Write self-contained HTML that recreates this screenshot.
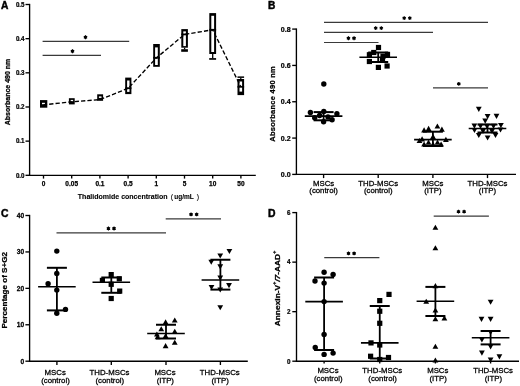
<!DOCTYPE html>
<html><head><meta charset="utf-8"><style>
html,body{margin:0;padding:0;background:#fff;width:520px;height:386px;overflow:hidden;}
svg{display:block;font-family:"Liberation Sans", sans-serif;will-change:transform;}
</style></head><body>
<svg width="520" height="386" viewBox="0 0 520 386">
<rect width="520" height="386" fill="#fff"/>
<text x="1.00" y="8.80" font-size="10.2" font-weight="bold" text-anchor="start" fill="#000" stroke="#000" stroke-width="0.45" >A</text>
<line x1="29.60" y1="3.85" x2="29.60" y2="175.95" stroke="#000" stroke-width="1.35" />
<line x1="28.95" y1="175.30" x2="255.80" y2="175.30" stroke="#000" stroke-width="1.35" />
<line x1="25.50" y1="4.50" x2="29.60" y2="4.50" stroke="#000" stroke-width="1.35" />
<text x="0.00" y="0.00" font-size="6.9" font-weight="bold" text-anchor="end" fill="#000" stroke="#000" stroke-width="0.25" transform="translate(24.50 6.80) scale(0.9 1)" >0.5</text>
<line x1="25.50" y1="38.66" x2="29.60" y2="38.66" stroke="#000" stroke-width="1.35" />
<text x="0.00" y="0.00" font-size="6.9" font-weight="bold" text-anchor="end" fill="#000" stroke="#000" stroke-width="0.25" transform="translate(24.50 40.96) scale(0.9 1)" >0.4</text>
<line x1="25.50" y1="72.82" x2="29.60" y2="72.82" stroke="#000" stroke-width="1.35" />
<text x="0.00" y="0.00" font-size="6.9" font-weight="bold" text-anchor="end" fill="#000" stroke="#000" stroke-width="0.25" transform="translate(24.50 75.12) scale(0.9 1)" >0.3</text>
<line x1="25.50" y1="106.98" x2="29.60" y2="106.98" stroke="#000" stroke-width="1.35" />
<text x="0.00" y="0.00" font-size="6.9" font-weight="bold" text-anchor="end" fill="#000" stroke="#000" stroke-width="0.25" transform="translate(24.50 109.28) scale(0.9 1)" >0.2</text>
<line x1="25.50" y1="141.14" x2="29.60" y2="141.14" stroke="#000" stroke-width="1.35" />
<text x="0.00" y="0.00" font-size="6.9" font-weight="bold" text-anchor="end" fill="#000" stroke="#000" stroke-width="0.25" transform="translate(24.50 143.44) scale(0.9 1)" >0.1</text>
<line x1="25.50" y1="175.30" x2="29.60" y2="175.30" stroke="#000" stroke-width="1.35" />
<text x="0.00" y="0.00" font-size="6.9" font-weight="bold" text-anchor="end" fill="#000" stroke="#000" stroke-width="0.25" transform="translate(24.50 177.60) scale(0.9 1)" >0.0</text>
<line x1="43.50" y1="175.30" x2="43.50" y2="178.60" stroke="#000" stroke-width="1.35" />
<text x="43.50" y="185.50" font-size="6.5" font-weight="bold" text-anchor="middle" fill="#000" stroke="#000" stroke-width="0.25" >0</text>
<line x1="71.70" y1="175.30" x2="71.70" y2="178.60" stroke="#000" stroke-width="1.35" />
<text x="71.70" y="185.50" font-size="6.5" font-weight="bold" text-anchor="middle" fill="#000" stroke="#000" stroke-width="0.25" >0.05</text>
<line x1="99.90" y1="175.30" x2="99.90" y2="178.60" stroke="#000" stroke-width="1.35" />
<text x="99.90" y="185.50" font-size="6.5" font-weight="bold" text-anchor="middle" fill="#000" stroke="#000" stroke-width="0.25" >0.1</text>
<line x1="128.10" y1="175.30" x2="128.10" y2="178.60" stroke="#000" stroke-width="1.35" />
<text x="128.10" y="185.50" font-size="6.5" font-weight="bold" text-anchor="middle" fill="#000" stroke="#000" stroke-width="0.25" >0.5</text>
<line x1="156.30" y1="175.30" x2="156.30" y2="178.60" stroke="#000" stroke-width="1.35" />
<text x="156.30" y="185.50" font-size="6.5" font-weight="bold" text-anchor="middle" fill="#000" stroke="#000" stroke-width="0.25" >1</text>
<line x1="184.50" y1="175.30" x2="184.50" y2="178.60" stroke="#000" stroke-width="1.35" />
<text x="184.50" y="185.50" font-size="6.5" font-weight="bold" text-anchor="middle" fill="#000" stroke="#000" stroke-width="0.25" >5</text>
<line x1="212.70" y1="175.30" x2="212.70" y2="178.60" stroke="#000" stroke-width="1.35" />
<text x="212.70" y="185.50" font-size="6.5" font-weight="bold" text-anchor="middle" fill="#000" stroke="#000" stroke-width="0.25" >10</text>
<line x1="240.90" y1="175.30" x2="240.90" y2="178.60" stroke="#000" stroke-width="1.35" />
<text x="240.90" y="185.50" font-size="6.5" font-weight="bold" text-anchor="middle" fill="#000" stroke="#000" stroke-width="0.25" >50</text>
<text x="77.80" y="198.80" font-size="6.6" font-weight="bold" text-anchor="start" fill="#000" stroke="#000" stroke-width="0.1" textLength="89.8" lengthAdjust="spacingAndGlyphs" >Thalidomide concentration</text>
<text x="171.90" y="198.90" font-size="7.0" font-weight="normal" text-anchor="middle" fill="#000" stroke="#000" stroke-width="0.1" >(</text>
<text x="174.30" y="198.80" font-size="6.6" font-weight="bold" text-anchor="start" fill="#000" stroke="#000" stroke-width="0.1" textLength="19.5" lengthAdjust="spacingAndGlyphs" >ug/mL</text>
<text x="197.90" y="198.90" font-size="7.0" font-weight="normal" text-anchor="middle" fill="#000" stroke="#000" stroke-width="0.1" >)</text>
<text x="10.10" y="92.00" font-size="6.9" font-weight="bold" text-anchor="middle" fill="#000" stroke="#000" stroke-width="0.25" textLength="66.5" lengthAdjust="spacingAndGlyphs" transform="rotate(-90 10.1 92.0)" >Absorbance 490 nm</text>
<line x1="42.60" y1="41.40" x2="129.20" y2="41.40" stroke="#3a3a3a" stroke-width="1.2" />
<path d="M85.50,35.25L85.50,39.15M83.81,36.22L87.19,38.17M87.19,36.22L83.81,38.17" stroke="#000" stroke-width="1.1" fill="none"/>
<circle cx="85.50" cy="37.20" r="1.35" fill="#000"/>
<line x1="42.60" y1="55.40" x2="101.00" y2="55.40" stroke="#3a3a3a" stroke-width="1.2" />
<path d="M72.50,49.25L72.50,53.15M70.81,50.22L74.19,52.17M74.19,50.22L70.81,52.17" stroke="#000" stroke-width="1.1" fill="none"/>
<circle cx="72.50" cy="51.20" r="1.35" fill="#000"/>
<rect x="40.00" y="100.10" width="7.30" height="7.60" fill="#000"/>
<rect x="42.00" y="102.80" width="2.90" height="1.40" fill="#fff"/>
<rect x="68.90" y="98.20" width="5.80" height="6.20" fill="#000"/>
<rect x="70.70" y="99.90" width="2.40" height="1.40" fill="#fff"/>
<rect x="97.20" y="94.30" width="5.90" height="6.50" fill="#000"/>
<rect x="98.90" y="96.40" width="2.60" height="1.50" fill="#fff"/>
<rect x="125.20" y="77.60" width="6.20" height="16.50" fill="#000"/>
<rect x="127.10" y="80.50" width="2.40" height="11.40" fill="#fff"/>
<rect x="125.20" y="87.30" width="6.20" height="1.80" fill="#000"/>
<rect x="153.20" y="44.00" width="6.60" height="22.80" fill="#000"/>
<rect x="155.10" y="47.40" width="2.70" height="17.60" fill="#fff"/>
<rect x="153.20" y="56.90" width="6.60" height="1.80" fill="#000"/>
<rect x="181.30" y="29.10" width="6.60" height="18.60" fill="#000"/>
<rect x="183.30" y="31.40" width="2.60" height="14.70" fill="#fff"/>
<rect x="181.30" y="33.50" width="6.60" height="1.80" fill="#000"/>
<rect x="209.30" y="13.10" width="6.80" height="40.90" fill="#000"/>
<rect x="211.30" y="15.80" width="2.80" height="36.20" fill="#fff"/>
<rect x="209.30" y="28.90" width="6.80" height="1.80" fill="#000"/>
<rect x="237.50" y="79.00" width="6.60" height="16.10" fill="#000"/>
<rect x="239.50" y="81.50" width="2.60" height="10.10" fill="#fff"/>
<rect x="237.50" y="85.90" width="6.60" height="1.80" fill="#000"/>
<polyline points="43.6,104.8 71.8,101.8 100.1,99.6 128.3,88.2 156.5,57.8 184.6,34.4 212.7,29.8 240.8,86.8" fill="none" stroke="#000" stroke-width="1.35" stroke-dasharray="4.3,2.1" stroke-dashoffset="0.8"/>
<line x1="184.60" y1="47.70" x2="184.60" y2="49.30" stroke="#000" stroke-width="1.3" />
<rect x="181.20" y="49.20" width="6.70" height="2.60" fill="#000"/>
<line x1="212.70" y1="54.00" x2="212.70" y2="58.20" stroke="#000" stroke-width="1.3" />
<rect x="209.20" y="58.10" width="6.90" height="1.70" fill="#000"/>
<line x1="240.80" y1="77.80" x2="240.80" y2="79.00" stroke="#000" stroke-width="1.3" />
<rect x="237.50" y="76.40" width="6.60" height="1.50" fill="#000"/>
<text x="268.00" y="8.70" font-size="10.2" font-weight="bold" text-anchor="start" fill="#000" stroke="#000" stroke-width="0.45" >B</text>
<line x1="296.40" y1="28.45" x2="296.40" y2="175.05" stroke="#000" stroke-width="1.35" />
<line x1="295.75" y1="174.40" x2="516.00" y2="174.40" stroke="#000" stroke-width="1.35" />
<line x1="292.20" y1="29.10" x2="296.40" y2="29.10" stroke="#000" stroke-width="1.35" />
<text x="0.00" y="0.00" font-size="7.6" font-weight="bold" text-anchor="end" fill="#000" stroke="#000" stroke-width="0.25" transform="translate(290.60 31.70) scale(0.93 1)" >0.8</text>
<line x1="292.20" y1="65.43" x2="296.40" y2="65.43" stroke="#000" stroke-width="1.35" />
<text x="0.00" y="0.00" font-size="7.6" font-weight="bold" text-anchor="end" fill="#000" stroke="#000" stroke-width="0.25" transform="translate(290.60 68.03) scale(0.93 1)" >0.6</text>
<line x1="292.20" y1="101.75" x2="296.40" y2="101.75" stroke="#000" stroke-width="1.35" />
<text x="0.00" y="0.00" font-size="7.6" font-weight="bold" text-anchor="end" fill="#000" stroke="#000" stroke-width="0.25" transform="translate(290.60 104.35) scale(0.93 1)" >0.4</text>
<line x1="292.20" y1="138.08" x2="296.40" y2="138.08" stroke="#000" stroke-width="1.35" />
<text x="0.00" y="0.00" font-size="7.6" font-weight="bold" text-anchor="end" fill="#000" stroke="#000" stroke-width="0.25" transform="translate(290.60 140.68) scale(0.93 1)" >0.2</text>
<line x1="292.20" y1="174.40" x2="296.40" y2="174.40" stroke="#000" stroke-width="1.35" />
<text x="0.00" y="0.00" font-size="7.6" font-weight="bold" text-anchor="end" fill="#000" stroke="#000" stroke-width="0.25" transform="translate(290.60 177.00) scale(0.93 1)" >0.0</text>
<line x1="323.60" y1="174.40" x2="323.60" y2="178.10" stroke="#000" stroke-width="1.35" />
<text x="323.60" y="185.60" font-size="7.8" font-weight="normal" text-anchor="middle" fill="#000" stroke="#000" stroke-width="0.28" >MSCs</text>
<text x="323.60" y="193.40" font-size="7.8" font-weight="normal" text-anchor="middle" fill="#000" stroke="#000" stroke-width="0.28" >(control)</text>
<line x1="378.20" y1="174.40" x2="378.20" y2="178.10" stroke="#000" stroke-width="1.35" />
<text x="378.20" y="185.60" font-size="7.8" font-weight="normal" text-anchor="middle" fill="#000" stroke="#000" stroke-width="0.28" >THD-MSCs</text>
<text x="378.20" y="193.40" font-size="7.8" font-weight="normal" text-anchor="middle" fill="#000" stroke="#000" stroke-width="0.28" >(control)</text>
<line x1="432.90" y1="174.40" x2="432.90" y2="178.10" stroke="#000" stroke-width="1.35" />
<text x="432.90" y="185.60" font-size="7.8" font-weight="normal" text-anchor="middle" fill="#000" stroke="#000" stroke-width="0.28" >MSCs</text>
<text x="432.90" y="193.40" font-size="7.8" font-weight="normal" text-anchor="middle" fill="#000" stroke="#000" stroke-width="0.28" >(ITP)</text>
<line x1="487.50" y1="174.40" x2="487.50" y2="178.10" stroke="#000" stroke-width="1.35" />
<text x="487.50" y="185.60" font-size="7.8" font-weight="normal" text-anchor="middle" fill="#000" stroke="#000" stroke-width="0.28" >THD-MSCs</text>
<text x="487.50" y="193.40" font-size="7.8" font-weight="normal" text-anchor="middle" fill="#000" stroke="#000" stroke-width="0.28" >(ITP)</text>
<text x="274.60" y="104.00" font-size="7.5" font-weight="bold" text-anchor="middle" fill="#000" stroke="#000" stroke-width="0.25" textLength="75.5" lengthAdjust="spacing" transform="rotate(-90 274.6 104.0)" >Absorbance 490 nm</text>
<line x1="324.00" y1="22.40" x2="488.00" y2="22.40" stroke="#3a3a3a" stroke-width="1.2" />
<path d="M404.20,16.15L404.20,20.05M402.51,17.12L405.89,19.07M405.89,17.12L402.51,19.07" stroke="#000" stroke-width="1.1" fill="none"/>
<circle cx="404.20" cy="18.10" r="1.35" fill="#000"/>
<path d="M409.80,16.15L409.80,20.05M408.11,17.12L411.49,19.07M411.49,17.12L408.11,19.07" stroke="#000" stroke-width="1.1" fill="none"/>
<circle cx="409.80" cy="18.10" r="1.35" fill="#000"/>
<line x1="324.00" y1="32.40" x2="433.00" y2="32.40" stroke="#3a3a3a" stroke-width="1.2" />
<path d="M375.70,26.15L375.70,30.05M374.01,27.12L377.39,29.07M377.39,27.12L374.01,29.07" stroke="#000" stroke-width="1.1" fill="none"/>
<circle cx="375.70" cy="28.10" r="1.35" fill="#000"/>
<path d="M381.30,26.15L381.30,30.05M379.61,27.12L382.99,29.07M382.99,27.12L379.61,29.07" stroke="#000" stroke-width="1.1" fill="none"/>
<circle cx="381.30" cy="28.10" r="1.35" fill="#000"/>
<line x1="324.00" y1="42.50" x2="378.50" y2="42.50" stroke="#3a3a3a" stroke-width="1.2" />
<path d="M348.45,36.25L348.45,40.15M346.76,37.23L350.14,39.18M350.14,37.23L346.76,39.18" stroke="#000" stroke-width="1.1" fill="none"/>
<circle cx="348.45" cy="38.20" r="1.35" fill="#000"/>
<path d="M354.05,36.25L354.05,40.15M352.36,37.23L355.74,39.18M355.74,37.23L352.36,39.18" stroke="#000" stroke-width="1.1" fill="none"/>
<circle cx="354.05" cy="38.20" r="1.35" fill="#000"/>
<line x1="433.00" y1="87.90" x2="488.00" y2="87.90" stroke="#3a3a3a" stroke-width="1.2" />
<path d="M458.80,81.95L458.80,85.85M457.11,82.93L460.49,84.88M460.49,82.93L457.11,84.88" stroke="#000" stroke-width="1.1" fill="none"/>
<circle cx="458.80" cy="83.90" r="1.35" fill="#000"/>
<line x1="304.80" y1="116.10" x2="342.40" y2="116.10" stroke="#000" stroke-width="1.6" />
<line x1="313.60" y1="112.10" x2="333.60" y2="112.10" stroke="#000" stroke-width="2.0" />
<line x1="313.60" y1="120.30" x2="333.60" y2="120.30" stroke="#000" stroke-width="2.0" />
<line x1="323.60" y1="112.10" x2="323.60" y2="120.30" stroke="#000" stroke-width="1.8" />
<circle cx="323.80" cy="84.00" r="2.7" fill="#000"/>
<circle cx="310.40" cy="112.50" r="2.7" fill="#000"/>
<circle cx="323.80" cy="111.40" r="2.7" fill="#000"/>
<circle cx="336.90" cy="113.70" r="2.7" fill="#000"/>
<circle cx="314.70" cy="117.70" r="2.7" fill="#000"/>
<circle cx="319.60" cy="115.50" r="2.7" fill="#000"/>
<circle cx="328.00" cy="116.90" r="2.7" fill="#000"/>
<circle cx="332.10" cy="119.75" r="2.7" fill="#000"/>
<circle cx="323.60" cy="121.80" r="2.7" fill="#000"/>
<line x1="359.40" y1="57.25" x2="397.00" y2="57.25" stroke="#000" stroke-width="1.6" />
<line x1="368.20" y1="52.50" x2="388.20" y2="52.50" stroke="#000" stroke-width="2.0" />
<line x1="368.20" y1="62.00" x2="388.20" y2="62.00" stroke="#000" stroke-width="2.0" />
<line x1="378.20" y1="52.50" x2="378.20" y2="62.00" stroke="#000" stroke-width="1.8" />
<rect x="375.90" y="44.90" width="5.2" height="5.2" fill="#000"/>
<rect x="366.80" y="52.15" width="5.2" height="5.2" fill="#000"/>
<rect x="371.15" y="49.90" width="5.2" height="5.2" fill="#000"/>
<rect x="384.90" y="51.80" width="5.2" height="5.2" fill="#000"/>
<rect x="380.40" y="53.65" width="5.2" height="5.2" fill="#000"/>
<rect x="366.80" y="58.90" width="5.2" height="5.2" fill="#000"/>
<rect x="375.80" y="64.80" width="5.2" height="5.2" fill="#000"/>
<rect x="384.50" y="63.40" width="5.2" height="5.2" fill="#000"/>
<rect x="379.90" y="56.90" width="5.2" height="5.2" fill="#000"/>
<line x1="414.10" y1="139.60" x2="451.70" y2="139.60" stroke="#000" stroke-width="1.6" />
<line x1="422.90" y1="131.70" x2="442.90" y2="131.70" stroke="#000" stroke-width="2.0" />
<line x1="422.90" y1="146.00" x2="442.90" y2="146.00" stroke="#000" stroke-width="2.0" />
<line x1="432.90" y1="131.70" x2="432.90" y2="146.00" stroke="#000" stroke-width="1.8" />
<polygon points="425.70,130.91 431.50,130.91 428.60,125.69" fill="#000"/>
<polygon points="434.50,128.61 440.30,128.61 437.40,123.39" fill="#000"/>
<polygon points="421.20,132.41 427.00,132.41 424.10,127.19" fill="#000"/>
<polygon points="439.00,131.81 444.80,131.81 441.90,126.59" fill="#000"/>
<polygon points="430.10,138.91 435.90,138.91 433.00,133.69" fill="#000"/>
<polygon points="419.20,141.41 425.00,141.41 422.10,136.19" fill="#000"/>
<polygon points="443.00,141.91 448.80,141.91 445.90,136.69" fill="#000"/>
<polygon points="421.20,146.61 427.00,146.61 424.10,141.39" fill="#000"/>
<polygon points="430.10,146.61 435.90,146.61 433.00,141.39" fill="#000"/>
<polygon points="438.20,146.61 444.00,146.61 441.10,141.39" fill="#000"/>
<polygon points="425.60,144.81 431.40,144.81 428.50,139.59" fill="#000"/>
<polygon points="434.60,144.81 440.40,144.81 437.50,139.59" fill="#000"/>
<polygon points="416.60,143.11 422.40,143.11 419.50,137.89" fill="#000"/>
<line x1="468.70" y1="128.50" x2="506.30" y2="128.50" stroke="#000" stroke-width="1.6" />
<line x1="477.50" y1="124.50" x2="497.50" y2="124.50" stroke="#000" stroke-width="2.0" />
<line x1="477.50" y1="132.50" x2="497.50" y2="132.50" stroke="#000" stroke-width="2.0" />
<line x1="487.50" y1="124.50" x2="487.50" y2="132.50" stroke="#000" stroke-width="1.8" />
<polygon points="475.90,106.69 481.70,106.69 478.80,111.91" fill="#000"/>
<polygon points="484.70,113.99 490.50,113.99 487.60,119.21" fill="#000"/>
<polygon points="493.60,113.69 499.40,113.69 496.50,118.91" fill="#000"/>
<polygon points="482.30,118.59 488.10,118.59 485.20,123.81" fill="#000"/>
<polygon points="498.00,122.89 503.80,122.89 500.90,128.11" fill="#000"/>
<polygon points="471.50,123.59 477.30,123.59 474.40,128.81" fill="#000"/>
<polygon points="477.60,123.79 483.40,123.79 480.50,129.01" fill="#000"/>
<polygon points="484.10,123.79 489.90,123.79 487.00,129.01" fill="#000"/>
<polygon points="490.60,123.79 496.40,123.79 493.50,129.01" fill="#000"/>
<polygon points="471.60,127.89 477.40,127.89 474.50,133.11" fill="#000"/>
<polygon points="480.10,128.69 485.90,128.69 483.00,133.91" fill="#000"/>
<polygon points="489.10,128.69 494.90,128.69 492.00,133.91" fill="#000"/>
<polygon points="497.60,127.39 503.40,127.39 500.50,132.61" fill="#000"/>
<polygon points="475.90,132.89 481.70,132.89 478.80,138.11" fill="#000"/>
<polygon points="484.70,135.39 490.50,135.39 487.60,140.61" fill="#000"/>
<polygon points="492.60,132.89 498.40,132.89 495.50,138.11" fill="#000"/>
<text x="1.00" y="217.40" font-size="10.4" font-weight="bold" text-anchor="start" fill="#000" stroke="#000" stroke-width="0.45" >C</text>
<line x1="29.60" y1="214.85" x2="29.60" y2="361.85" stroke="#000" stroke-width="1.35" />
<line x1="28.95" y1="361.20" x2="247.80" y2="361.20" stroke="#000" stroke-width="1.35" />
<line x1="25.40" y1="215.50" x2="29.60" y2="215.50" stroke="#000" stroke-width="1.35" />
<text x="0.00" y="0.00" font-size="7.0" font-weight="bold" text-anchor="end" fill="#000" stroke="#000" stroke-width="0.25" transform="translate(24.20 217.80) scale(0.95 1)" >40</text>
<line x1="25.40" y1="251.93" x2="29.60" y2="251.93" stroke="#000" stroke-width="1.35" />
<text x="0.00" y="0.00" font-size="7.0" font-weight="bold" text-anchor="end" fill="#000" stroke="#000" stroke-width="0.25" transform="translate(24.20 254.23) scale(0.95 1)" >30</text>
<line x1="25.40" y1="288.35" x2="29.60" y2="288.35" stroke="#000" stroke-width="1.35" />
<text x="0.00" y="0.00" font-size="7.0" font-weight="bold" text-anchor="end" fill="#000" stroke="#000" stroke-width="0.25" transform="translate(24.20 290.65) scale(0.95 1)" >20</text>
<line x1="25.40" y1="324.77" x2="29.60" y2="324.77" stroke="#000" stroke-width="1.35" />
<text x="0.00" y="0.00" font-size="7.0" font-weight="bold" text-anchor="end" fill="#000" stroke="#000" stroke-width="0.25" transform="translate(24.20 327.07) scale(0.95 1)" >10</text>
<line x1="25.40" y1="361.20" x2="29.60" y2="361.20" stroke="#000" stroke-width="1.35" />
<text x="0.00" y="0.00" font-size="7.0" font-weight="bold" text-anchor="end" fill="#000" stroke="#000" stroke-width="0.25" transform="translate(24.20 363.50) scale(0.95 1)" >0</text>
<line x1="56.90" y1="361.20" x2="56.90" y2="365.00" stroke="#000" stroke-width="1.35" />
<text x="55.20" y="375.00" font-size="7.8" font-weight="normal" text-anchor="middle" fill="#000" stroke="#000" stroke-width="0.28" >MSCs</text>
<text x="55.50" y="382.90" font-size="7.8" font-weight="normal" text-anchor="middle" fill="#000" stroke="#000" stroke-width="0.28" >(control)</text>
<line x1="111.30" y1="361.20" x2="111.30" y2="365.00" stroke="#000" stroke-width="1.35" />
<text x="109.50" y="375.00" font-size="7.8" font-weight="normal" text-anchor="middle" fill="#000" stroke="#000" stroke-width="0.28" >THD-MSCs</text>
<text x="109.80" y="382.90" font-size="7.8" font-weight="normal" text-anchor="middle" fill="#000" stroke="#000" stroke-width="0.28" >(control)</text>
<line x1="166.00" y1="361.20" x2="166.00" y2="365.00" stroke="#000" stroke-width="1.35" />
<text x="165.00" y="375.00" font-size="7.8" font-weight="normal" text-anchor="middle" fill="#000" stroke="#000" stroke-width="0.28" >MSCs</text>
<text x="165.30" y="382.90" font-size="7.8" font-weight="normal" text-anchor="middle" fill="#000" stroke="#000" stroke-width="0.28" >(ITP)</text>
<line x1="220.40" y1="361.20" x2="220.40" y2="365.00" stroke="#000" stroke-width="1.35" />
<text x="219.80" y="375.00" font-size="7.8" font-weight="normal" text-anchor="middle" fill="#000" stroke="#000" stroke-width="0.28" >THD-MSCs</text>
<text x="220.10" y="382.90" font-size="7.8" font-weight="normal" text-anchor="middle" fill="#000" stroke="#000" stroke-width="0.28" >(ITP)</text>
<text x="6.70" y="290.30" font-size="7.4" font-weight="bold" text-anchor="middle" fill="#000" stroke="#000" stroke-width="0.25" textLength="76.5" lengthAdjust="spacingAndGlyphs" transform="rotate(-90 6.7 290.3)" >Percentage of S+G2</text>
<line x1="56.50" y1="232.90" x2="166.00" y2="232.90" stroke="#3a3a3a" stroke-width="1.2" />
<path d="M108.45,226.55L108.45,230.45M106.76,227.53L110.14,229.47M110.14,227.53L106.76,229.47" stroke="#000" stroke-width="1.1" fill="none"/>
<circle cx="108.45" cy="228.50" r="1.35" fill="#000"/>
<path d="M114.05,226.55L114.05,230.45M112.36,227.53L115.74,229.47M115.74,227.53L112.36,229.47" stroke="#000" stroke-width="1.1" fill="none"/>
<circle cx="114.05" cy="228.50" r="1.35" fill="#000"/>
<line x1="165.70" y1="218.80" x2="221.00" y2="218.80" stroke="#3a3a3a" stroke-width="1.2" />
<path d="M191.05,212.45L191.05,216.35M189.36,213.43L192.74,215.38M192.74,213.43L189.36,215.38" stroke="#000" stroke-width="1.1" fill="none"/>
<circle cx="191.05" cy="214.40" r="1.35" fill="#000"/>
<path d="M196.65,212.45L196.65,216.35M194.96,213.43L198.34,215.38M198.34,213.43L194.96,215.38" stroke="#000" stroke-width="1.1" fill="none"/>
<circle cx="196.65" cy="214.40" r="1.35" fill="#000"/>
<line x1="38.10" y1="286.80" x2="75.70" y2="286.80" stroke="#000" stroke-width="1.6" />
<line x1="46.90" y1="267.80" x2="66.90" y2="267.80" stroke="#000" stroke-width="2.0" />
<line x1="46.90" y1="310.40" x2="66.90" y2="310.40" stroke="#000" stroke-width="2.0" />
<line x1="56.90" y1="267.80" x2="56.90" y2="310.40" stroke="#000" stroke-width="1.8" />
<circle cx="56.80" cy="251.10" r="2.7" fill="#000"/>
<circle cx="56.80" cy="273.40" r="2.7" fill="#000"/>
<circle cx="48.10" cy="283.70" r="2.7" fill="#000"/>
<circle cx="56.80" cy="290.10" r="2.7" fill="#000"/>
<circle cx="65.50" cy="309.40" r="2.7" fill="#000"/>
<circle cx="56.80" cy="313.30" r="2.7" fill="#000"/>
<line x1="92.50" y1="282.30" x2="130.10" y2="282.30" stroke="#000" stroke-width="1.6" />
<line x1="101.30" y1="277.50" x2="121.30" y2="277.50" stroke="#000" stroke-width="2.0" />
<line x1="101.30" y1="292.80" x2="121.30" y2="292.80" stroke="#000" stroke-width="2.0" />
<line x1="111.30" y1="277.50" x2="111.30" y2="292.80" stroke="#000" stroke-width="1.8" />
<rect x="108.60" y="272.00" width="5.2" height="5.2" fill="#000"/>
<rect x="99.80" y="277.80" width="5.2" height="5.2" fill="#000"/>
<rect x="116.70" y="276.20" width="5.2" height="5.2" fill="#000"/>
<rect x="108.60" y="281.70" width="5.2" height="5.2" fill="#000"/>
<rect x="117.10" y="288.50" width="5.2" height="5.2" fill="#000"/>
<rect x="108.60" y="295.90" width="5.2" height="5.2" fill="#000"/>
<line x1="147.20" y1="333.50" x2="184.80" y2="333.50" stroke="#000" stroke-width="1.6" />
<line x1="156.00" y1="324.75" x2="176.00" y2="324.75" stroke="#000" stroke-width="2.0" />
<line x1="156.00" y1="338.50" x2="176.00" y2="338.50" stroke="#000" stroke-width="2.0" />
<line x1="166.00" y1="324.75" x2="166.00" y2="338.50" stroke="#000" stroke-width="1.8" />
<polygon points="162.70,324.51 168.50,324.51 165.60,319.29" fill="#000"/>
<polygon points="171.85,322.61 177.65,322.61 174.75,317.39" fill="#000"/>
<polygon points="158.35,331.36 164.15,331.36 161.25,326.14" fill="#000"/>
<polygon points="171.85,333.86 177.65,333.86 174.75,328.64" fill="#000"/>
<polygon points="154.00,336.61 159.80,336.61 156.90,331.39" fill="#000"/>
<polygon points="154.70,339.21 160.50,339.21 157.60,333.99" fill="#000"/>
<polygon points="162.70,338.21 168.50,338.21 165.60,332.99" fill="#000"/>
<polygon points="171.85,344.86 177.65,344.86 174.75,339.64" fill="#000"/>
<polygon points="162.70,348.21 168.50,348.21 165.60,342.99" fill="#000"/>
<line x1="201.60" y1="280.00" x2="239.20" y2="280.00" stroke="#000" stroke-width="1.6" />
<line x1="210.40" y1="259.75" x2="230.40" y2="259.75" stroke="#000" stroke-width="2.0" />
<line x1="210.40" y1="289.60" x2="230.40" y2="289.60" stroke="#000" stroke-width="2.0" />
<line x1="220.40" y1="259.75" x2="220.40" y2="289.60" stroke="#000" stroke-width="1.8" />
<polygon points="226.50,248.89 232.30,248.89 229.40,254.11" fill="#000"/>
<polygon points="217.35,253.39 223.15,253.39 220.25,258.61" fill="#000"/>
<polygon points="208.35,259.64 214.15,259.64 211.25,264.86" fill="#000"/>
<polygon points="217.35,264.29 223.15,264.29 220.25,269.51" fill="#000"/>
<polygon points="217.35,275.49 223.15,275.49 220.25,280.71" fill="#000"/>
<polygon points="226.10,282.99 231.90,282.99 229.00,288.21" fill="#000"/>
<polygon points="208.60,284.89 214.40,284.89 211.50,290.11" fill="#000"/>
<polygon points="217.35,287.39 223.15,287.39 220.25,292.61" fill="#000"/>
<polygon points="217.35,305.14 223.15,305.14 220.25,310.36" fill="#000"/>
<text x="268.00" y="217.00" font-size="10.4" font-weight="bold" text-anchor="start" fill="#000" stroke="#000" stroke-width="0.45" >D</text>
<line x1="296.50" y1="211.95" x2="296.50" y2="361.85" stroke="#000" stroke-width="1.35" />
<line x1="295.85" y1="361.20" x2="519.00" y2="361.20" stroke="#000" stroke-width="1.35" />
<line x1="292.30" y1="212.60" x2="296.50" y2="212.60" stroke="#000" stroke-width="1.35" />
<text x="0.00" y="0.00" font-size="7.0" font-weight="bold" text-anchor="end" fill="#000" stroke="#000" stroke-width="0.25" transform="translate(290.60 214.90) scale(0.9 1)" >6</text>
<line x1="292.30" y1="262.13" x2="296.50" y2="262.13" stroke="#000" stroke-width="1.35" />
<text x="0.00" y="0.00" font-size="7.0" font-weight="bold" text-anchor="end" fill="#000" stroke="#000" stroke-width="0.25" transform="translate(290.60 264.43) scale(0.9 1)" >4</text>
<line x1="292.30" y1="311.67" x2="296.50" y2="311.67" stroke="#000" stroke-width="1.35" />
<text x="0.00" y="0.00" font-size="7.0" font-weight="bold" text-anchor="end" fill="#000" stroke="#000" stroke-width="0.25" transform="translate(290.60 313.97) scale(0.9 1)" >2</text>
<line x1="292.30" y1="361.20" x2="296.50" y2="361.20" stroke="#000" stroke-width="1.35" />
<text x="0.00" y="0.00" font-size="7.0" font-weight="bold" text-anchor="end" fill="#000" stroke="#000" stroke-width="0.25" transform="translate(290.60 363.50) scale(0.9 1)" >0</text>
<line x1="324.10" y1="361.20" x2="324.10" y2="363.50" stroke="#000" stroke-width="1.35" />
<text x="328.00" y="373.20" font-size="7.8" font-weight="normal" text-anchor="middle" fill="#000" stroke="#000" stroke-width="0.28" >MSCs</text>
<text x="328.30" y="381.30" font-size="7.8" font-weight="normal" text-anchor="middle" fill="#000" stroke="#000" stroke-width="0.28" >(control)</text>
<line x1="379.75" y1="361.20" x2="379.75" y2="363.50" stroke="#000" stroke-width="1.35" />
<text x="382.30" y="373.20" font-size="7.8" font-weight="normal" text-anchor="middle" fill="#000" stroke="#000" stroke-width="0.28" >THD-MSCs</text>
<text x="382.60" y="381.30" font-size="7.8" font-weight="normal" text-anchor="middle" fill="#000" stroke="#000" stroke-width="0.28" >(control)</text>
<line x1="435.40" y1="361.20" x2="435.40" y2="363.50" stroke="#000" stroke-width="1.35" />
<text x="437.80" y="373.20" font-size="7.8" font-weight="normal" text-anchor="middle" fill="#000" stroke="#000" stroke-width="0.28" >MSCs</text>
<text x="438.10" y="381.30" font-size="7.8" font-weight="normal" text-anchor="middle" fill="#000" stroke="#000" stroke-width="0.28" >(ITP)</text>
<line x1="490.60" y1="361.20" x2="490.60" y2="363.50" stroke="#000" stroke-width="1.35" />
<text x="493.10" y="373.20" font-size="7.8" font-weight="normal" text-anchor="middle" fill="#000" stroke="#000" stroke-width="0.28" >THD-MSCs</text>
<text x="493.40" y="381.30" font-size="7.8" font-weight="normal" text-anchor="middle" fill="#000" stroke="#000" stroke-width="0.28" >(ITP)</text>
<text x="0" y="0" font-size="7.6" font-weight="bold" text-anchor="middle" stroke="#000" stroke-width="0.25" transform="translate(280.0 288.6) rotate(-90)" textLength="75.5" lengthAdjust="spacingAndGlyphs">Annexin-V<tspan font-size="4.6" dy="-3.7">+</tspan><tspan dy="3.7" font-style="italic">/7</tspan><tspan>-AAD</tspan><tspan font-size="4.6" dy="-3.7">+</tspan></text>
<line x1="324.25" y1="257.70" x2="379.40" y2="257.70" stroke="#3a3a3a" stroke-width="1.2" />
<path d="M348.50,251.45L348.50,255.35M346.81,252.42L350.19,254.37M350.19,252.42L346.81,254.37" stroke="#000" stroke-width="1.1" fill="none"/>
<circle cx="348.50" cy="253.40" r="1.35" fill="#000"/>
<path d="M354.10,251.45L354.10,255.35M352.41,252.42L355.79,254.37M355.79,252.42L352.41,254.37" stroke="#000" stroke-width="1.1" fill="none"/>
<circle cx="354.10" cy="253.40" r="1.35" fill="#000"/>
<line x1="433.70" y1="216.05" x2="488.90" y2="216.05" stroke="#3a3a3a" stroke-width="1.2" />
<path d="M458.50,209.70L458.50,213.60M456.81,210.68L460.19,212.62M460.19,210.68L456.81,212.62" stroke="#000" stroke-width="1.1" fill="none"/>
<circle cx="458.50" cy="211.65" r="1.35" fill="#000"/>
<path d="M464.10,209.70L464.10,213.60M462.41,210.68L465.79,212.62M465.79,210.68L462.41,212.62" stroke="#000" stroke-width="1.1" fill="none"/>
<circle cx="464.10" cy="211.65" r="1.35" fill="#000"/>
<line x1="305.30" y1="301.60" x2="342.90" y2="301.60" stroke="#000" stroke-width="1.6" />
<line x1="314.10" y1="277.50" x2="334.10" y2="277.50" stroke="#000" stroke-width="2.0" />
<line x1="314.10" y1="350.00" x2="334.10" y2="350.00" stroke="#000" stroke-width="2.0" />
<line x1="324.10" y1="277.50" x2="324.10" y2="350.00" stroke="#000" stroke-width="1.8" />
<circle cx="324.10" cy="272.25" r="2.7" fill="#000"/>
<circle cx="333.10" cy="274.40" r="2.7" fill="#000"/>
<circle cx="315.00" cy="281.00" r="2.7" fill="#000"/>
<circle cx="324.10" cy="283.10" r="2.7" fill="#000"/>
<circle cx="324.10" cy="301.60" r="2.7" fill="#000"/>
<circle cx="324.10" cy="334.40" r="2.7" fill="#000"/>
<circle cx="315.25" cy="347.50" r="2.7" fill="#000"/>
<circle cx="333.10" cy="353.10" r="2.7" fill="#000"/>
<circle cx="324.10" cy="354.40" r="2.7" fill="#000"/>
<line x1="360.95" y1="342.90" x2="398.55" y2="342.90" stroke="#000" stroke-width="1.6" />
<line x1="369.75" y1="306.00" x2="389.75" y2="306.00" stroke="#000" stroke-width="2.0" />
<line x1="369.75" y1="358.50" x2="389.75" y2="358.50" stroke="#000" stroke-width="2.0" />
<line x1="379.75" y1="306.00" x2="379.75" y2="358.50" stroke="#000" stroke-width="1.8" />
<rect x="386.40" y="291.80" width="5.2" height="5.2" fill="#000"/>
<rect x="377.15" y="298.00" width="5.2" height="5.2" fill="#000"/>
<rect x="377.15" y="308.65" width="5.2" height="5.2" fill="#000"/>
<rect x="377.15" y="320.70" width="5.2" height="5.2" fill="#000"/>
<rect x="368.40" y="340.30" width="5.2" height="5.2" fill="#000"/>
<rect x="377.15" y="342.40" width="5.2" height="5.2" fill="#000"/>
<rect x="368.00" y="353.65" width="5.2" height="5.2" fill="#000"/>
<rect x="377.15" y="356.90" width="5.2" height="5.2" fill="#000"/>
<rect x="385.90" y="354.90" width="5.2" height="5.2" fill="#000"/>
<line x1="416.60" y1="301.25" x2="454.20" y2="301.25" stroke="#000" stroke-width="1.6" />
<line x1="425.40" y1="286.90" x2="445.40" y2="286.90" stroke="#000" stroke-width="2.0" />
<line x1="425.40" y1="316.00" x2="445.40" y2="316.00" stroke="#000" stroke-width="2.0" />
<line x1="435.40" y1="286.90" x2="435.40" y2="316.00" stroke="#000" stroke-width="1.8" />
<polygon points="432.50,229.86 438.30,229.86 435.40,224.64" fill="#000"/>
<polygon points="432.50,250.36 438.30,250.36 435.40,245.14" fill="#000"/>
<polygon points="432.50,288.21 438.30,288.21 435.40,282.99" fill="#000"/>
<polygon points="423.35,303.86 429.15,303.86 426.25,298.64" fill="#000"/>
<polygon points="432.50,312.61 438.30,312.61 435.40,307.39" fill="#000"/>
<polygon points="432.50,321.36 438.30,321.36 435.40,316.14" fill="#000"/>
<polygon points="441.50,320.51 447.30,320.51 444.40,315.29" fill="#000"/>
<polygon points="432.50,348.86 438.30,348.86 435.40,343.64" fill="#000"/>
<polygon points="432.50,362.61 438.30,362.61 435.40,357.39" fill="#000"/>
<line x1="471.80" y1="337.70" x2="509.40" y2="337.70" stroke="#000" stroke-width="1.6" />
<line x1="480.60" y1="331.00" x2="500.60" y2="331.00" stroke="#000" stroke-width="2.0" />
<line x1="480.60" y1="344.40" x2="500.60" y2="344.40" stroke="#000" stroke-width="2.0" />
<line x1="490.60" y1="331.00" x2="490.60" y2="344.40" stroke="#000" stroke-width="1.8" />
<polygon points="487.70,299.64 493.50,299.64 490.60,304.86" fill="#000"/>
<polygon points="478.60,316.79 484.40,316.79 481.50,322.01" fill="#000"/>
<polygon points="487.70,316.79 493.50,316.79 490.60,322.01" fill="#000"/>
<polygon points="487.70,329.89 493.50,329.89 490.60,335.11" fill="#000"/>
<polygon points="479.00,337.39 484.80,337.39 481.90,342.61" fill="#000"/>
<polygon points="487.70,344.29 493.50,344.29 490.60,349.51" fill="#000"/>
<polygon points="479.00,350.49 484.80,350.49 481.90,355.71" fill="#000"/>
<polygon points="496.50,354.29 502.30,354.29 499.40,359.51" fill="#000"/>
<polygon points="487.70,357.39 493.50,357.39 490.60,362.61" fill="#000"/>
</svg>
</body></html>
